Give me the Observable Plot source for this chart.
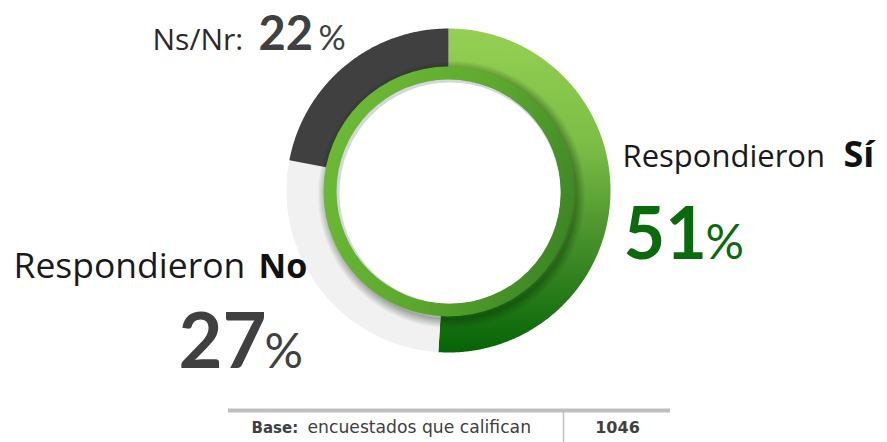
<!DOCTYPE html>
<html>
<head>
<meta charset="utf-8">
<script src="https://cdn.jsdelivr.net/npm/d3@7"></script>
<script src="https://cdn.jsdelivr.net/npm/@observablehq/plot@0.6"></script>
<style>
  html, body { margin: 0; padding: 0; background: #ffffff; }
  #chart svg { display: block; }
</style>
</head>
<body>
<div id="chart"></div>
<script>
// ---- Data ----
const categories = ["Respondieron Sí", "Respondieron No", "Ns/Nr"];
const values = [51, 27, 22];
const sliceColors = ["url(#gradSi)", "#F1F1F1", "#404040"];
const baseLabel = "Base:";
const baseText = "encuestados que califican";
const baseN = 1046;

// ---- Layout ----
const W = 887, H = 442;
const cx = 448, cy = 190;      // donut centre in pixels
const R = 162;                 // outer radius (px == data units)
const RIN = 118;               // inner radius of the main ring
const FONT = "'Open Sans', Lato, sans-serif";
const NUMFONT = "Lato, 'Open Sans', sans-serif";
const FOOTFONT = "'DejaVu Sans', sans-serif";

const rows = categories.map((c, i) => ({category: c, value: values[i], color: sliceColors[i]}));
const arcs = d3.pie().sort(null).value(d => d.value).startAngle(0).endAngle(2 * Math.PI)(rows);

// polygon of a ring sector in data space (angles clockwise from top, y up)
function sector(a0, a1, r0, r1) {
  const n = Math.max(2, Math.ceil((a1 - a0) / 0.01));
  const pts = [];
  for (let i = 0; i <= n; i++) {
    const a = a0 + (a1 - a0) * i / n;
    pts.push({x: r1 * Math.sin(a), y: r1 * Math.cos(a)});
  }
  for (let i = n; i >= 0; i--) {
    const a = a0 + (a1 - a0) * i / n;
    pts.push({x: r0 * Math.sin(a), y: r0 * Math.cos(a)});
  }
  return pts;
}

const defs = () => {
  const g = d3.create("svg:g");
  g.html(`
    <defs>
      <linearGradient id="gradSi" x1="0" y1="0" x2="0" y2="1">
        <stop offset="0%" stop-color="#94D052"/>
        <stop offset="35%" stop-color="#7DBE47"/>
        <stop offset="70%" stop-color="#3E8A26"/>
        <stop offset="100%" stop-color="#056405"/>
      </linearGradient>
      <linearGradient id="gradRing" x1="0" y1="0.2" x2="1" y2="0.6">
        <stop offset="0%" stop-color="#6EBB36"/>
        <stop offset="55%" stop-color="#5DA92F"/>
        <stop offset="100%" stop-color="#3C8723"/>
      </linearGradient>
      <radialGradient id="ringShadow" cx="0.5" cy="0.5" r="0.5">
        <stop offset="0%" stop-color="rgb(0,30,0)" stop-opacity="0"/>
        <stop offset="86%" stop-color="rgb(0,30,0)" stop-opacity="0"/>
        <stop offset="93%" stop-color="rgb(0,30,0)" stop-opacity="0.35"/>
        <stop offset="100%" stop-color="rgb(0,30,0)" stop-opacity="0"/>
      </radialGradient>
    </defs>`);
  return g.node();
};

const centre = [{x: 0, y: 0}];

const txt = (text, x, y, o) => Plot.text([text], {
  x: () => x, y: () => y, text: d => d, textAnchor: "start", lineAnchor: "bottom",
  fontFamily: FONT, ...o
});

const chart = Plot.plot({
  width: W,
  height: H,
  margin: 0,
  x: {domain: [-cx, W - cx], range: [0, W], axis: null},
  y: {domain: [-(H - cy), cy], range: [H, 0], axis: null},
  style: {background: "#ffffff", overflow: "visible"},
  marks: [
    defs,
    // donut slices
    ...arcs.map(a => Plot.line(sector(a.startAngle, a.endAngle, RIN, R), {
      x: "x", y: "y", fill: a.data.color, stroke: "none", curve: "linear"
    })),
    // soft shadow of the inner green ring
    Plot.dot(centre, {x: "x", y: "y", r: 134, fill: "url(#ringShadow)", stroke: "none", dx: 3, dy: 4}),
    // inner green ring
    Plot.dot(centre, {x: "x", y: "y", r: 125, fill: "url(#gradRing)", stroke: "none", dy: 1}),
    // inner shadow + white disc
    Plot.dot(centre, {x: "x", y: "y", r: 112, fill: "#D6D6DD", stroke: "none", dy: 1}),
    Plot.dot(centre, {x: "x", y: "y", r: 110.5, fill: "#ffffff", stroke: "none", dx: 1.5, dy: 2.5}),

    // Sí labels
    txt("Respondieron", 174, 24, {fontSize: 31, fill: "#1a1a1a"}),
    txt("Sí", 395, 24, {fontSize: 36, fontWeight: "bold", fill: "#111111"}),
    txt(String(values[0]), 175, -68, {fontSize: 72, fontWeight: "bold", fill: "#0B6A0B", fontFamily: NUMFONT}),
    txt("%", 257, -68, {fontSize: 48, fill: "#0B6A0B", fontFamily: NUMFONT}),

    // No labels
    txt("Respondieron", -435, -87, {fontSize: 35.5, fill: "#1a1a1a"}),
    txt("No", -190, -87, {fontSize: 34, fontWeight: "bold", fill: "#111111"}),
    txt(String(values[1]), -270, -177, {fontSize: 76, fontWeight: "bold", fill: "#404040", fontFamily: NUMFONT}),
    txt("%", -184, -177, {fontSize: 48, fill: "#404040", fontFamily: NUMFONT}),

    // Ns/Nr labels
    txt("Ns/Nr:", -296, 141, {fontSize: 30, fill: "#2a2a2a"}),
    txt(String(values[2]), -190, 141, {fontSize: 47, fontWeight: "bold", fill: "#404040", fontFamily: NUMFONT}),
    txt("%", -130, 141, {fontSize: 34, fill: "#404040", fontFamily: NUMFONT}),

    // footer
    Plot.ruleY([-220], {x1: -220, x2: 222, stroke: "#BFBFBF", strokeWidth: 4}),
    Plot.ruleX([115], {y1: -222, y2: -252, stroke: "#BFBFBF", strokeWidth: 1.5}),
    txt(baseLabel, -197, -242, {fontSize: 15, fontWeight: "bold", fill: "#404040", fontFamily: FOOTFONT}),
    txt(baseText, -141, -242, {fontSize: 17.2, fill: "#404040", fontFamily: FOOTFONT}),
    Plot.text([String(baseN)], {x: () => 169, y: () => -242, text: d => d, textAnchor: "middle",
      lineAnchor: "bottom", fontFamily: FOOTFONT, fontSize: 16, fontWeight: "bold", fill: "#404040"})
  ]
});

document.getElementById("chart").appendChild(chart);
</script>
</body>
</html>
